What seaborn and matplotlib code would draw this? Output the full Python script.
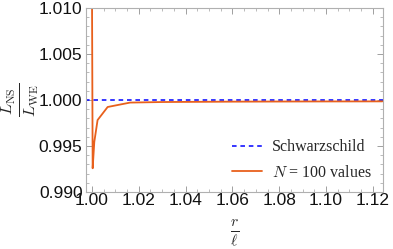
import numpy as np
import pandas as pd
import matplotlib
matplotlib.use("Agg")
import matplotlib.pyplot as plt
from matplotlib.ticker import MultipleLocator, FormatStrFormatter
import seaborn as sns

# curve (r / ell, L_NS / L_WE)
r_over_l = [1.0000, 1.0003, 1.0010, 1.0024, 1.0067, 1.0163, 1.0300, 1.0600, 1.0900, 1.1240]
ratio = [1.0125, 0.99258, 0.99545, 0.99782, 0.99924, 0.99972, 0.99978, 0.99982, 0.99984, 0.99985]
schwarzschild_x = [0.997, 1.125]
schwarzschild_y = [1.0, 1.0]

sns.set_style("ticks")
plt.rcParams["font.family"] = ["Liberation Sans", "DejaVu Sans"]
plt.rcParams["mathtext.fontset"] = "cm"

df = pd.DataFrame({"r": r_over_l, "ratio": ratio})
ref = pd.DataFrame({"r": schwarzschild_x, "ratio": schwarzschild_y})

fig = plt.figure(figsize=(3.93, 2.49), dpi=100)
ax = fig.add_axes([0.2188, 0.2289, 0.7557, 0.7390])

sns.lineplot(data=ref, x="r", y="ratio", ax=ax, color="#0000ff", linestyle=(0, (3, 2.5)),
             linewidth=1.1, label="Schwarzschild")
sns.lineplot(data=df, x="r", y="ratio", ax=ax, color="#e8601c", linewidth=1.3,
             label=r"$N$ = 100 values")

ax.set_xlim(0.99745, 1.1243)
ax.set_ylim(0.990, 1.010)
ax.xaxis.set_major_locator(MultipleLocator(0.02))
ax.xaxis.set_minor_locator(MultipleLocator(0.005))
ax.yaxis.set_major_locator(MultipleLocator(0.005))
ax.yaxis.set_minor_locator(MultipleLocator(0.001))
ax.xaxis.set_major_formatter(FormatStrFormatter("%.2f"))
ax.yaxis.set_major_formatter(FormatStrFormatter("%.3f"))

for s in ax.spines.values():
    s.set_color("#b0b0b0")
    s.set_linewidth(0.8)
ax.tick_params(which="both", direction="in", top=True, right=True, color="#a0a0a0",
               labelsize=12.5, labelcolor="#111111")
ax.tick_params(axis="x", pad=0.5)
ax.tick_params(axis="y", pad=2.5)
ax.tick_params(which="major", length=4, width=0.7)
ax.tick_params(which="minor", length=2, width=0.5)

ax.set_xlabel(r"$\frac{r}{\ell}$", fontsize=16, va="center")
ax.xaxis.set_label_coords(0.5, -0.225)
ax.set_ylabel(r"$\frac{L_{\mathrm{NS}}}{L_{\mathrm{WE}}}$", fontsize=17, va="center")
ax.yaxis.set_label_coords(-0.222, 0.5)

leg = ax.legend(loc="lower right", frameon=False, handlelength=1.9,
                handletextpad=0.6, labelspacing=0.6, borderaxespad=0.3,
                bbox_to_anchor=(1.0, 0.0),
                prop={"family": ["Liberation Serif", "DejaVu Serif"], "size": 11.5})

fig.savefig("out.png", dpi=100)
